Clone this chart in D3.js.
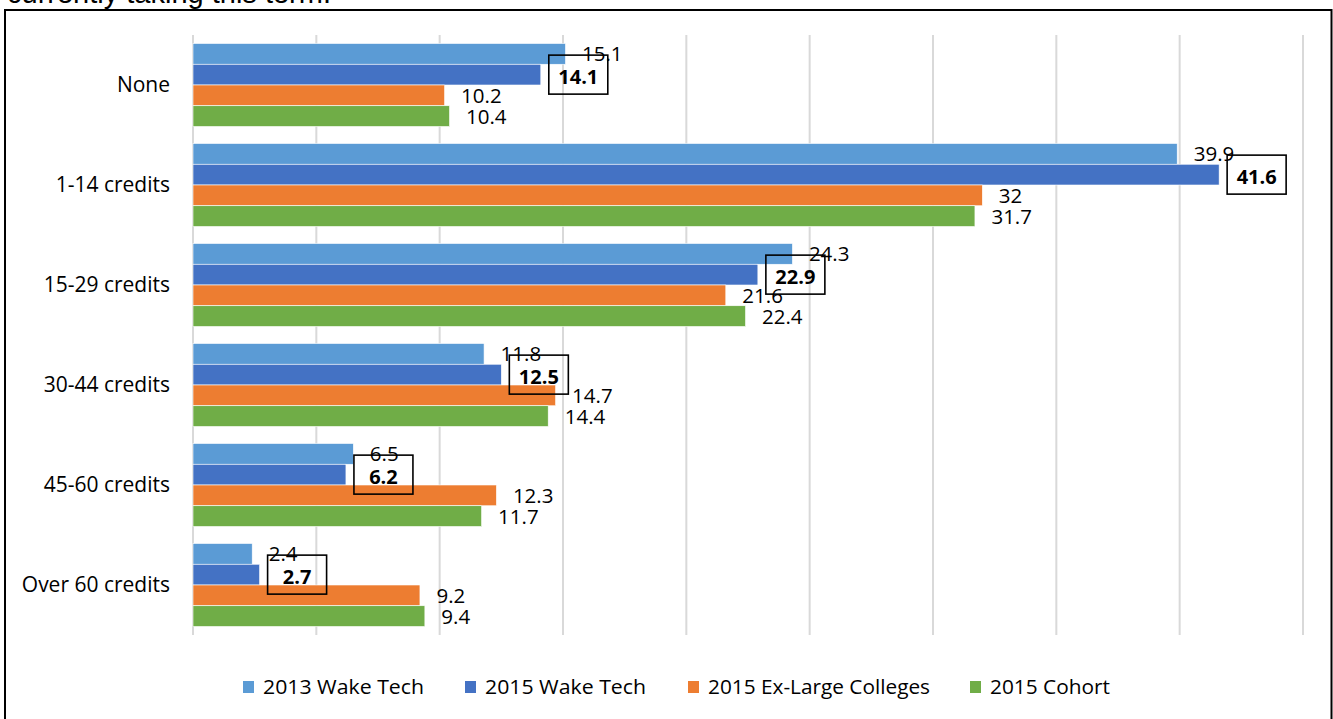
<!DOCTYPE html>
<html>
<head>
<meta charset="utf-8">
<script src="https://cdn.jsdelivr.net/npm/d3@7"></script>
<style>
  html, body { margin: 0; padding: 0; background: #fff; }
  svg { display: block; }
</style>
</head>
<body>
<svg id="chart" width="1333" height="719"></svg>
<script>
const categories = ["None", "1-14 credits", "15-29 credits", "30-44 credits", "45-60 credits", "Over 60 credits"];
const seriesNames = ["2013 Wake Tech", "2015 Wake Tech", "2015 Ex-Large Colleges", "2015 Cohort"];
const wake2013 = [15.1, 39.9, 24.3, 11.8, 6.5, 2.4];
const wake2015 = [14.1, 41.6, 22.9, 12.5, 6.2, 2.7];
const exLarge2015 = [10.2, 32, 21.6, 14.7, 12.3, 9.2];
const cohort2015 = [10.4, 31.7, 22.4, 14.4, 11.7, 9.4];
const xTicks = [0, 5, 10, 15, 20, 25, 30, 35, 40, 45];
const colors = ["#5B9BD5", "#4472C4", "#ED7D31", "#70AD47"];
const boxedSeries = "2015 Wake Tech";

const seriesValues = [wake2013, wake2015, exLarge2015, cohort2015];
const svg = d3.select("#chart");

// Title fragment (cut off at top)
svg.append("text")
  .attr("x", 7).attr("y", 3)
  .attr("font-family", "Liberation Sans, Arial, sans-serif")
  .attr("font-size", 29)
  .attr("fill", "#000")
  .text("currently taking this term.");

// Chart border
svg.append("rect")
  .attr("x", 5).attr("y", 10)
  .attr("width", 1326.5).attr("height", 730)
  .attr("fill", "none").attr("stroke", "#000").attr("stroke-width", 2);

const x = d3.scaleLinear().domain([0, 45]).range([193, 1303]);
const y0 = d3.scaleBand().domain(categories).range([35, 635]).paddingInner(0.17).paddingOuter(0.085);
const y1 = d3.scaleBand().domain(seriesNames).range([0, y0.bandwidth()]);

// Gridlines
svg.append("g").selectAll("line").data(xTicks).join("line")
  .attr("x1", d => x(d)).attr("x2", d => x(d))
  .attr("y1", 35).attr("y2", 635)
  .attr("stroke", "#d9d9d9").attr("stroke-width", 2);

const font = "Open Sans, sans-serif";

// Category axis labels
const yAxis = d3.axisLeft(y0).tickSize(0).tickPadding(0);
const gy = svg.append("g").attr("transform", "translate(170,0)").call(yAxis);
gy.select(".domain").remove();
gy.selectAll("text")
  .attr("font-family", font)
  .attr("font-size", 21)
  .attr("fill", "#000");

// Bars
categories.forEach((cat, ci) => {
  const g = svg.append("g").attr("transform", `translate(0,${y0(cat)})`);
  seriesNames.forEach((s, si) => {
    const v = seriesValues[si][ci];
    g.append("rect")
      .attr("x", x(0))
      .attr("y", y1(s))
      .attr("width", x(v) - x(0))
      .attr("height", y1.bandwidth())
      .attr("fill", colors[si])
      .attr("stroke", "#fff").attr("stroke-width", 0.6);
  });
});

// Labels (drawn after bars so they sit on top)
categories.forEach((cat, ci) => {
  const g = svg.append("g").attr("transform", `translate(0,${y0(cat)})`);
  seriesNames.forEach((s, si) => {
    const v = seriesValues[si][ci];
    const cy = y1(s) + y1.bandwidth() / 2;
    if (s === boxedSeries) {
      const bx = x(v) + 8;
      const bw = 59;
      g.append("rect")
        .attr("x", bx).attr("y", cy - 19.5)
        .attr("width", bw).attr("height", 39)
        .attr("fill", "none").attr("stroke", "#000").attr("stroke-width", 1.6);
      g.append("text")
        .attr("x", bx + bw / 2).attr("y", cy + 2)
        .attr("dy", "0.36em")
        .attr("text-anchor", "middle")
        .attr("font-family", font).attr("font-weight", "bold")
        .attr("font-size", 20)
        .attr("fill", "#000")
        .text(v);
    } else {
      g.append("text")
        .attr("x", x(v) + 16.5).attr("y", cy)
        .attr("dy", "0.36em")
        .attr("font-family", font)
        .attr("font-size", 20.5)
        .attr("fill", "#000")
        .text(v);
    }
  });
});

// Legend
const legendX = [243, 465, 688, 970];
const legendW = [161, 161, 222, 120];
const lg = svg.append("g");
seriesNames.forEach((s, i) => {
  lg.append("rect")
    .attr("x", legendX[i]).attr("y", 681)
    .attr("width", 11).attr("height", 12)
    .attr("fill", colors[i]);
  lg.append("text")
    .attr("x", legendX[i] + 20).attr("y", 687)
    .attr("dy", "0.36em")
    .attr("font-family", font)
    .attr("font-size", 20)
    .attr("textLength", legendW[i])
    .attr("lengthAdjust", "spacingAndGlyphs")
    .attr("fill", "#000")
    .text(s);
});
</script>
</body>
</html>
